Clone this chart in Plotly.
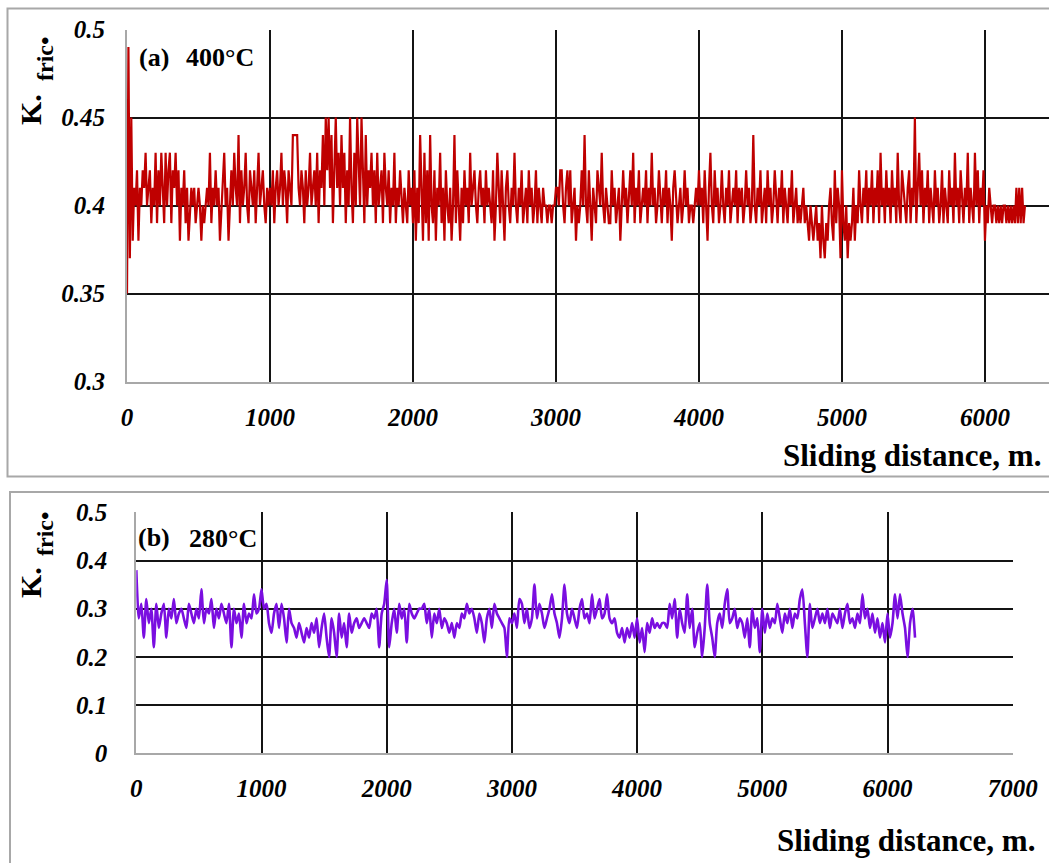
import plotly.graph_objects as go

W, H = 1049, 863

# ---------------- data ----------------
step_a = 10  # m between samples, panel (a)
fric_400 = [
    0.35,0.49,0.37,0.45,0.38,0.41,0.40,0.42,0.38,0.41,0.40,0.42,0.41,0.43,0.40,0.41,0.42,0.39,0.41,0.40,0.43,0.39,0.42,0.40,0.43,
    0.41,0.39,0.43,0.40,0.42,0.43,0.39,0.42,0.41,0.43,0.40,0.42,0.38,0.41,0.40,0.42,0.39,0.41,0.38,0.40,0.41,0.40,0.41,0.39,0.40,
    0.41,0.40,0.38,0.40,0.39,0.40,0.41,0.40,0.43,0.39,0.41,0.40,0.42,0.40,0.41,0.38,0.40,0.42,0.43,0.40,0.41,0.38,0.40,0.42,0.40,
    0.43,0.41,0.40,0.44,0.39,0.42,0.40,0.41,0.43,0.40,0.39,0.42,0.41,0.40,0.42,0.39,0.41,0.43,0.40,0.41,0.42,0.40,0.39,0.41,0.40,
    0.41,0.40,0.42,0.39,0.41,0.42,0.40,0.41,0.43,0.40,0.42,0.41,0.39,0.42,0.41,0.40,0.44,0.44,0.44,0.44,0.41,0.40,0.42,0.41,0.39,
    0.42,0.40,0.41,0.43,0.40,0.41,0.42,0.40,0.43,0.39,0.42,0.41,0.44,0.40,0.45,0.42,0.45,0.41,0.44,0.39,0.42,0.45,0.41,0.43,0.40,
    0.44,0.41,0.43,0.39,0.42,0.40,0.45,0.41,0.39,0.43,0.40,0.45,0.42,0.40,0.45,0.41,0.39,0.44,0.40,0.42,0.41,0.43,0.40,0.42,0.39,
    0.43,0.40,0.41,0.42,0.39,0.43,0.41,0.40,0.42,0.39,0.41,0.40,0.43,0.39,0.41,0.40,0.42,0.40,0.39,0.41,0.40,0.39,0.42,0.40,0.41,
    0.39,0.42,0.38,0.41,0.39,0.44,0.40,0.38,0.43,0.39,0.42,0.38,0.44,0.40,0.39,0.42,0.38,0.41,0.40,0.43,0.39,0.41,0.38,0.42,0.40,
    0.39,0.41,0.38,0.40,0.44,0.39,0.42,0.40,0.38,0.41,0.39,0.42,0.40,0.41,0.39,0.43,0.40,0.41,0.42,0.40,0.39,0.41,0.42,0.40,0.41,
    0.39,0.42,0.40,0.41,0.40,0.39,0.42,0.38,0.40,0.43,0.41,0.39,0.42,0.40,0.38,0.41,0.42,0.40,0.39,0.41,0.40,0.43,0.40,0.39,0.41,
    0.40,0.42,0.39,0.40,0.41,0.39,0.42,0.40,0.41,0.39,0.40,0.42,0.39,0.41,0.40,0.39,0.41,0.40,0.40,0.39,0.40,0.40,0.39,0.40,0.40,
    0.41,0.41,0.40,0.42,0.42,0.40,0.39,0.41,0.42,0.40,0.42,0.39,0.40,0.41,0.38,0.40,0.39,0.40,0.42,0.40,0.44,0.40,0.39,0.42,0.40,
    0.38,0.41,0.40,0.39,0.42,0.41,0.40,0.43,0.40,0.39,0.41,0.40,0.39,0.39,0.42,0.40,0.41,0.39,0.40,0.41,0.38,0.40,0.42,0.40,0.41,
    0.39,0.41,0.42,0.40,0.43,0.39,0.41,0.40,0.42,0.39,0.40,0.41,0.40,0.42,0.39,0.41,0.40,0.43,0.40,0.41,0.39,0.40,0.42,0.40,0.39,
    0.41,0.40,0.42,0.39,0.41,0.40,0.38,0.41,0.42,0.40,0.39,0.40,0.41,0.39,0.40,0.42,0.40,0.41,0.39,0.40,0.40,0.39,0.40,0.41,0.40,
    0.42,0.40,0.41,0.39,0.42,0.40,0.38,0.41,0.43,0.40,0.39,0.42,0.40,0.41,0.39,0.40,0.42,0.40,0.39,0.41,0.40,0.42,0.39,0.40,0.41,
    0.40,0.42,0.39,0.41,0.40,0.41,0.39,0.40,0.42,0.40,0.41,0.39,0.40,0.44,0.40,0.39,0.41,0.40,0.42,0.39,0.40,0.41,0.39,0.42,0.40,
    0.41,0.39,0.40,0.42,0.40,0.39,0.41,0.40,0.42,0.39,0.41,0.40,0.39,0.41,0.40,0.42,0.39,0.40,0.41,0.39,0.40,0.39,0.40,0.41,0.39,
    0.40,0.39,0.38,0.40,0.39,0.38,0.39,0.40,0.38,0.39,0.37,0.40,0.38,0.37,0.39,0.38,0.40,0.41,0.39,0.38,0.42,0.39,0.41,0.40,0.37,
    0.42,0.39,0.38,0.40,0.37,0.39,0.38,0.39,0.41,0.38,0.40,0.39,0.42,0.40,0.39,0.41,0.40,0.42,0.39,0.41,0.40,0.42,0.39,0.41,0.40,
    0.42,0.39,0.43,0.40,0.41,0.39,0.42,0.40,0.41,0.39,0.42,0.40,0.41,0.39,0.43,0.40,0.39,0.42,0.41,0.40,0.39,0.41,0.42,0.39,0.41,
    0.40,0.45,0.39,0.41,0.43,0.40,0.42,0.39,0.41,0.40,0.42,0.39,0.41,0.40,0.39,0.42,0.40,0.41,0.39,0.40,0.42,0.39,0.41,0.40,0.39,
    0.42,0.40,0.41,0.39,0.43,0.40,0.41,0.39,0.42,0.40,0.39,0.41,0.40,0.43,0.39,0.41,0.40,0.39,0.43,0.40,0.42,0.39,0.41,0.40,0.42,
    0.38,0.40,0.39,0.41,0.40,0.39,0.40,0.40,0.39,0.40,0.39,0.40,0.39,0.40,0.40,0.39,0.40,0.39,0.40,0.39,0.40,0.39,0.41,0.39,0.41,
    0.39,0.41,0.39,0.40,
]
dist_400 = [i * step_a for i in range(len(fric_400))]

step_b = 20  # m between samples, panel (b)
fric_280 = [
    0.38,0.28,0.31,0.24,0.32,0.27,0.30,0.22,0.31,0.26,0.29,0.31,0.24,0.30,0.28,0.32,0.27,0.29,0.30,0.28,0.26,0.31,0.29,0.27,0.30,
    0.28,0.34,0.27,0.30,0.29,0.32,0.26,0.30,0.28,0.31,0.29,0.27,0.31,0.22,0.30,0.27,0.29,0.24,0.31,0.27,0.29,0.28,0.33,0.29,0.30,
    0.34,0.30,0.31,0.27,0.25,0.29,0.31,0.26,0.31,0.28,0.23,0.30,0.27,0.26,0.24,0.27,0.25,0.23,0.26,0.24,0.27,0.25,0.28,0.22,0.26,
    0.29,0.24,0.20,0.28,0.25,0.20,0.29,0.24,0.27,0.22,0.29,0.25,0.27,0.28,0.26,0.27,0.28,0.27,0.26,0.29,0.28,0.30,0.22,0.29,0.31,
    0.36,0.22,0.27,0.30,0.25,0.31,0.28,0.30,0.23,0.31,0.29,0.28,0.29,0.30,0.30,0.31,0.27,0.30,0.24,0.29,0.27,0.30,0.26,0.28,0.27,
    0.25,0.27,0.24,0.27,0.26,0.29,0.28,0.31,0.29,0.30,0.28,0.25,0.29,0.27,0.23,0.28,0.30,0.26,0.31,0.29,0.28,0.27,0.26,0.20,0.28,
    0.27,0.29,0.26,0.32,0.31,0.27,0.30,0.26,0.28,0.35,0.28,0.31,0.29,0.26,0.28,0.30,0.33,0.29,0.27,0.24,0.28,0.35,0.29,0.27,0.30,
    0.28,0.26,0.30,0.32,0.28,0.29,0.27,0.33,0.28,0.30,0.32,0.28,0.29,0.33,0.28,0.27,0.28,0.25,0.24,0.26,0.23,0.26,0.24,0.27,0.24,
    0.28,0.23,0.26,0.21,0.27,0.25,0.28,0.26,0.27,0.26,0.27,0.27,0.26,0.31,0.28,0.32,0.24,0.30,0.27,0.25,0.33,0.26,0.30,0.22,0.25,
    0.27,0.20,0.26,0.35,0.27,0.24,0.20,0.27,0.29,0.26,0.31,0.34,0.27,0.28,0.30,0.26,0.28,0.27,0.24,0.28,0.22,0.30,0.26,0.28,0.21,
    0.30,0.25,0.29,0.26,0.28,0.27,0.31,0.28,0.25,0.29,0.27,0.30,0.26,0.29,0.28,0.32,0.34,0.27,0.20,0.31,0.26,0.28,0.30,0.27,0.29,
    0.27,0.30,0.26,0.29,0.28,0.27,0.30,0.26,0.29,0.31,0.27,0.28,0.26,0.29,0.27,0.33,0.28,0.30,0.26,0.29,0.25,0.28,0.24,0.27,0.23,
    0.29,0.24,0.27,0.33,0.28,0.33,0.29,0.26,0.20,0.27,0.30,0.24,
]
dist_280 = [i * step_b for i in range(len(fric_280))]

yticks_a = [0.3, 0.35, 0.4, 0.45, 0.5]
yticklabels_a = ["0.3", "0.35", "0.4", "0.45", "0.5"]
yticks_b = [0, 0.1, 0.2, 0.3, 0.4, 0.5]
yticklabels_b = ["0", "0.1", "0.2", "0.3", "0.4", "0.5"]
xticks_a = [0, 1000, 2000, 3000, 4000, 5000, 6000]
xticks_b = [0, 1000, 2000, 3000, 4000, 5000, 6000, 7000]

label_a = ["(a)", "400°C"]
label_b = ["(b)", "280°C"]
y_title = ["K.", "fric•"]
x_title = "Sliding distance, m."

# ---------------- layout helpers ----------------
def px(x):
    return x / W

def py(y):
    return 1 - y / H

SERIF = "Liberation Serif"
tickfont = dict(family=SERIF, size=25, color="black", weight="bold", style="italic")
GRID = "#141414"
EDGE = "#a8a8a8"

fig = go.Figure()
fig.add_trace(go.Scatter(x=dist_400, y=fric_400, mode="lines",
                         line=dict(color="#bf0000", width=2.2), xaxis="x", yaxis="y",
                         showlegend=False))
fig.add_trace(go.Scatter(x=dist_280, y=fric_280, mode="lines",
                         line=dict(color="#7a0ee0", width=2.6, shape="spline", smoothing=0.6),
                         xaxis="x2", yaxis="y2", showlegend=False))

common_x = dict(showgrid=True, gridcolor=GRID, gridwidth=2, zeroline=False,
                showline=True, linecolor=EDGE, linewidth=2, ticks="",
                tickfont=tickfont, ticklabelstandoff=12, fixedrange=True,
                automargin=False)
common_y = dict(showgrid=True, gridcolor=GRID, gridwidth=2, zeroline=False,
                showline=True, linecolor=EDGE, linewidth=2, ticks="",
                tickfont=tickfont, fixedrange=True, automargin=False)

fig.update_layout(
    width=W, height=H,
    margin=dict(l=0, r=0, t=0, b=0, autoexpand=False),
    paper_bgcolor="white", plot_bgcolor="white",
    xaxis=dict(common_x, domain=[px(127), 1.0], range=[0, 6448],
               tickvals=xticks_a, anchor="y"),
    yaxis=dict(common_y, domain=[py(381.5), py(29.5)], range=[0.3, 0.5],
               tickvals=yticks_a, ticktext=yticklabels_a, anchor="x",
               ticklabelstandoff=15),
    xaxis2=dict(common_x, domain=[px(136.3), px(1012.7)], range=[0, 7000],
                tickvals=xticks_b, anchor="y2"),
    yaxis2=dict(common_y, domain=[py(753.3), py(512.3)], range=[0, 0.5],
                tickvals=yticks_b, ticktext=yticklabels_b, anchor="x2",
                ticklabelstandoff=22),
)

# panel frames
fig.add_shape(type="rect", xref="paper", yref="paper",
              x0=px(7.5), x1=1.05, y0=py(476.5), y1=py(8.5),
              line=dict(color=EDGE, width=2), fillcolor="rgba(0,0,0,0)", layer="below")
fig.add_shape(type="rect", xref="paper", yref="paper",
              x0=px(10), x1=1.05, y0=-0.05, y1=py(492),
              line=dict(color=EDGE, width=2), fillcolor="rgba(0,0,0,0)", layer="below")

def ann(text, x, y, size, xanchor="center", yanchor="middle", angle=0, color="black"):
    fig.add_annotation(text=text, x=px(x), y=py(y), xref="paper", yref="paper",
                       xanchor=xanchor, yanchor=yanchor, showarrow=False, textangle=angle,
                       font=dict(family=SERIF, size=size, color=color, weight="bold"))

# panel (a)
ann(y_title[0], 30, 110, 30, angle=-90)
ann(y_title[1], 45, 59, 24, angle=-90)
ann(label_a[0], 137, 57, 26, xanchor="left")
ann(label_a[1], 184, 58, 26, xanchor="left")
ann(x_title, 1043, 456, 31, xanchor="right")

# panel (b)
ann(y_title[0], 30, 583, 30, angle=-90)
ann(y_title[1], 45, 534, 24, angle=-90)
ann(label_b[0], 136, 537, 26, xanchor="left")
ann(label_b[1], 187, 538, 26, xanchor="left")
ann(x_title, 1037, 840, 31, xanchor="right")

fig.write_html("out.html")
